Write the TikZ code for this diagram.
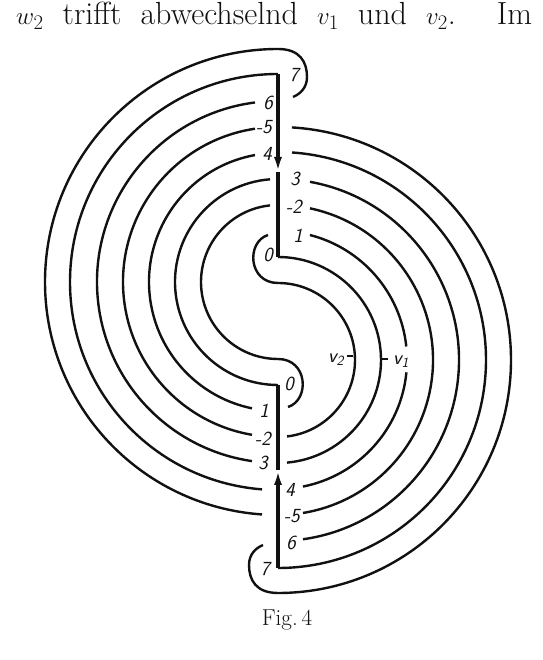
\documentclass[tikz,border=0pt]{standalone}
\usepackage{amsmath}
\usetikzlibrary{arrows.meta}
\definecolor{ink}{HTML}{111111}

\begin{document}
\begin{tikzpicture}[x=1pt, y=1pt,
    >={Latex[length=15pt, width=8pt]},
    every node/.style={text=ink},
  ]

  \useasboundingbox (0,0) rectangle (542,660);

  % Centres of the two families of arcs
  \coordinate (L) at (278,378);
  \coordinate (R) at (278,300);

  % Styles
  \tikzset{
    curve/.style={draw=ink, line width=2.4pt},
    wpath/.style={draw=ink, line width=4.6pt},
    cross/.style={font=\fontsize{20}{20}\selectfont\sffamily\itshape, inner sep=0pt},
    vlab/.style={font=\fontsize{20}{20}\selectfont\sffamily\itshape, inner sep=0pt},
    tick/.style={draw=ink, line width=1.2pt},
  }

  % Text line above the figure
  \node[anchor=base west, inner sep=0pt, font=\fontsize{32}{36}\selectfont] (head)
    at (16,635) {\makebox[516pt][s]{$w_2$ trifft abwechselnd $v_1$ und $v_2$. Im}};

  % Left arcs (centre L), outer one ends in the upper hook
  \draw[curve] (293,563) .. controls (300,566) and (307,572) .. (307,583)
    .. controls (307,598) and (300,611) .. (278,611)
    arc[start angle=90, end angle=266.06, radius=233];
  \draw[curve] (278,586) arc[start angle=90, end angle=265.59, radius=208];
  \draw[curve] ([shift={(97.30:181)}]L) arc[start angle=97.30, end angle=261.74, radius=181];
  \draw[curve] ([shift={(98.53:155)}]L) arc[start angle=98.53, end angle=260.34, radius=155];
  \draw[curve] ([shift={(100.27:129)}]L) arc[start angle=100.27, end angle=258.37, radius=129];
  \draw[curve] ([shift={(94.45:103)}]L) arc[start angle=94.45, end angle=270, radius=103];
  \draw[curve] (288,253) .. controls (310,260) and (308,301) .. (278,301)
    arc[start angle=270, end angle=95.96, radius=77];

  % Right arcs (centre R), outer one ends in the lower hook
  \draw[curve] (263,115) .. controls (256,112) and (249,106) .. (249,95)
    .. controls (249,80) and (256,67) .. (278,67)
    arc[start angle=-90, end angle=86.56, radius=233];
  \draw[curve] ([shift={(86.14:208)}]R) arc[start angle=86.14, end angle=-90, radius=208];
  \draw[curve] ([shift={(79.82:181)}]R) arc[start angle=79.82, end angle=-82.06, radius=181];
  \draw[curve] ([shift={(78.09:155)}]R) arc[start angle=78.09, end angle=-80.72, radius=155];
  \draw[curve] ([shift={(75.64:129)}]R) arc[start angle=75.64, end angle=6, radius=129];
  \draw[curve] ([shift={(-5.5:129)}]R) arc[start angle=-5.5, end angle=-78.83, radius=129];
  \draw[curve] (278,403) arc[start angle=90, end angle=-84.99, radius=103];
  \draw[curve] (268,425) .. controls (246,418) and (248,377) .. (278,377)
    arc[start angle=90, end angle=-83.29, radius=77];

  % The path w
  \draw[wpath, ->] (278,586) -- (278,488);
  \draw[wpath] (278,488) -- (278,403);
  \draw[wpath, ->] (278,92) -- (278,190);
  \draw[wpath] (278,190) -- (278,275);

  % Crossing labels, upper part
  \node[cross] (u7) at (294,585) {7};
  \node[cross] (u6) at (268,557) {6};
  \node[cross] (u5) at (264,533) {-5};
  \node[cross] (u4) at (267,506) {4};
  \node[cross] (u3) at (295,481) {3};
  \node[cross] (u2) at (294,453) {-2};
  \node[cross] (u1) at (298,424) {1};
  \node[cross] (u0) at (268,405) {0};

  % Crossing labels, lower part
  \node[cross] (d0) at (289,276) {0};
  \node[cross] (d1) at (264,249) {1};
  \node[cross] (d2) at (263,221) {-2};
  \node[cross] (d3) at (263,197) {3};
  \node[cross] (d4) at (290,170) {4};
  \node[cross] (d5) at (292,144) {-5};
  \node[cross] (d6) at (291,117) {6};
  \node[cross] (d7) at (265,91) {7};

  % v labels
  \node[vlab] (v2) at (336,300) {v\textsubscript{2}};
  \node[vlab] (v1) at (401,298) {v\textsubscript{1}};
  \draw[tick] (347,304) -- (353,304);
  \draw[tick] (381,301) -- (388,301);

  % Caption
  \node[font=\fontsize{23}{23}\selectfont, inner sep=0pt] (cap) at (287,40) {Fig.\,4};

\end{tikzpicture}
\end{document}
